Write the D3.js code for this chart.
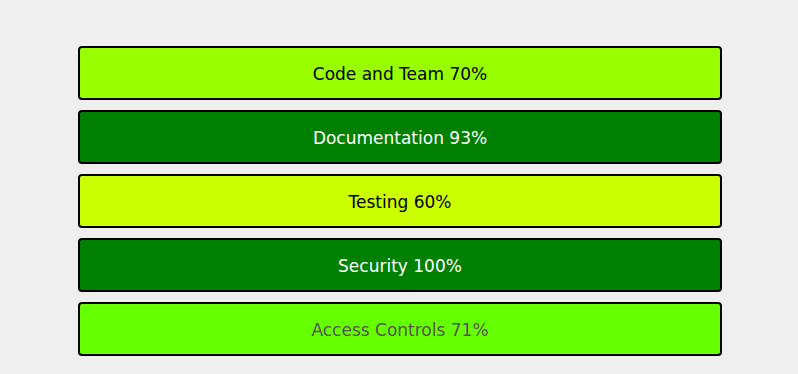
<!DOCTYPE html>
<html><head><meta charset="utf-8">
<script src="https://cdn.jsdelivr.net/npm/d3@7"></script>
<style>body{margin:0;background:#efefef;}svg{display:block;}</style>
</head><body>
<svg id="c" width="798" height="374"></svg>
<script>
const categories = ["Code and Team", "Documentation", "Testing", "Security", "Access Controls"];
const values = [70, 93, 60, 100, 71];
const fills = ["#99ff00", "#008000", "#ccff00", "#008000", "#66ff00"];
const textColors = ["#000000", "#ffffff", "#000000", "#ffffff", "#555555"];

const svg = d3.select("#c");
const y = d3.scaleBand().domain(categories).range([46, 355]).paddingInner(11/64).paddingOuter(0).align(0);
const x = d3.scaleLinear().domain([0, 1]).range([79, 721]);

const g = svg.selectAll("g.bar").data(categories).join("g").attr("class", "bar");
g.append("rect")
  .attr("x", x(0))
  .attr("y", d => y(d) + 1)
  .attr("width", x(1) - x(0))
  .attr("height", y.bandwidth() - 1)
  .attr("rx", 3).attr("ry", 3)
  .attr("fill", (d, i) => fills[i])
  .attr("stroke", "#000").attr("stroke-width", 2);
g.append("text")
  .attr("x", (x(0) + x(1)) / 2)
  .attr("y", d => y(d) + y.bandwidth() / 2 + 1)
  .attr("text-anchor", "middle")
  .attr("dominant-baseline", "central")
  .attr("font-family", "DejaVu Sans, Verdana, sans-serif")
  .attr("font-size", 17)
  .attr("fill", (d, i) => textColors[i])
  .text((d, i) => `${d} ${values[i]}%`);
</script>
</body></html>
